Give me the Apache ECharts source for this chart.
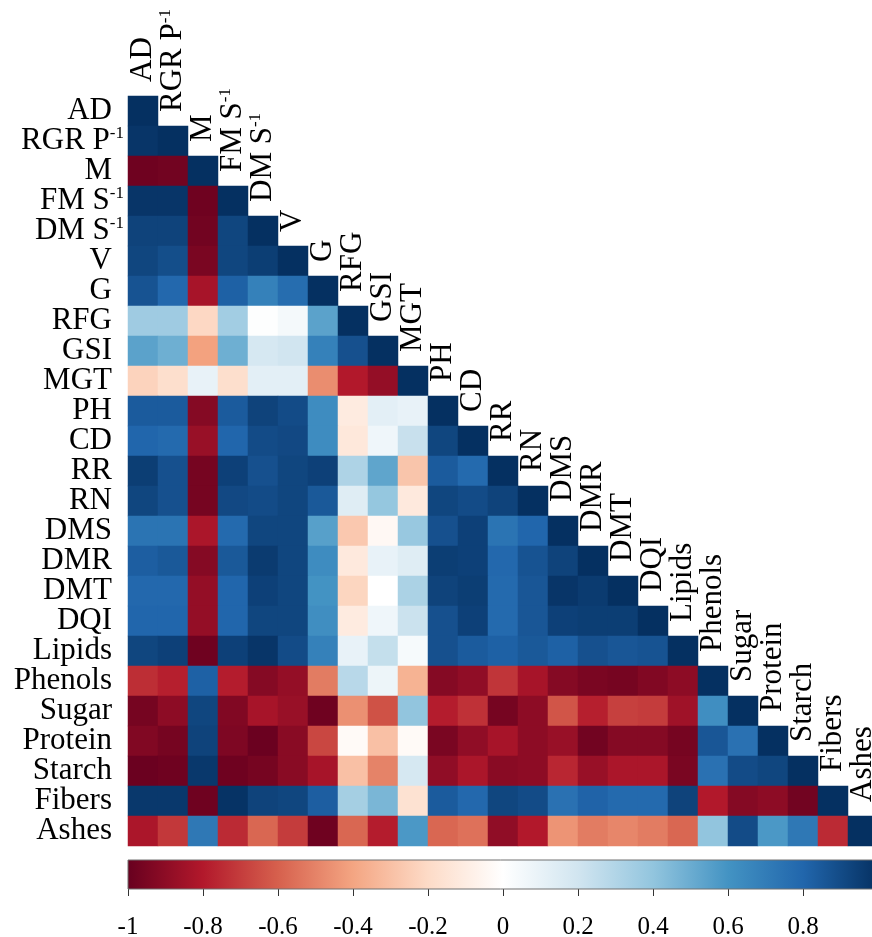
<!DOCTYPE html>
<html>
<head>
<meta charset="utf-8">
<script src="https://cdn.jsdelivr.net/npm/echarts@6/dist/echarts.min.js"></script>
<style>
  html, body { margin: 0; padding: 0; background: #ffffff; }
  #chart { width: 872px; height: 937px; }
</style>
</head>
<body>
<div id="chart"></div>
<script>
// Trait names; "^" marks a superscript part (e.g. per plant, per seedling)
const variables = ['AD', 'RGR P^-1', 'M', 'FM S^-1', 'DM S^-1', 'V', 'G', 'RFG', 'GSI', 'MGT',
  'PH', 'CD', 'RR', 'RN', 'DMS', 'DMR', 'DMT', 'DQI', 'Lipids', 'Phenols',
  'Sugar', 'Protein', 'Starch', 'Fibers', 'Ashes'];

// Pearson correlations, lower triangle: each row against the traits listed before it
const rowRGR = [0.98];
const rowM = [-0.98, -0.97];
const rowFM = [0.98, 0.98, -0.98];
const rowDM = [0.93, 0.93, -0.97, 0.92];
const rowV = [0.92, 0.89, -0.95, 0.92, 0.95];
const rowG = [0.87, 0.79, -0.83, 0.82, 0.68, 0.77];
const rowRFG = [0.36, 0.36, -0.21, 0.35, 0.01, 0.05, 0.54];
const rowGSI = [0.54, 0.49, -0.41, 0.49, 0.18, 0.2, 0.68, 0.88];
const rowMGT = [-0.23, -0.18, 0.1, -0.18, 0.12, 0.12, -0.47, -0.8, -0.88];
const rowPH = [0.84, 0.84, -0.92, 0.84, 0.93, 0.9, 0.63, -0.11, 0.12, 0.1];
const rowCD = [0.8, 0.78, -0.87, 0.8, 0.9, 0.91, 0.63, -0.13, 0.07, 0.23, 0.92];
const rowRR = [0.95, 0.88, -0.96, 0.94, 0.88, 0.92, 0.94, 0.31, 0.53, -0.28, 0.84, 0.78];
const rowRN = [0.92, 0.88, -0.96, 0.91, 0.9, 0.92, 0.85, 0.14, 0.39, -0.12, 0.92, 0.9, 0.93];
const rowDMS = [0.74, 0.74, -0.82, 0.78, 0.92, 0.92, 0.55, -0.27, -0.04, 0.38, 0.88, 0.94, 0.74, 0.8];
const rowDMR = [0.83, 0.85, -0.92, 0.85, 0.96, 0.92, 0.63, -0.12, 0.1, 0.14, 0.95, 0.94, 0.79, 0.87, 0.93];
const rowDMT = [0.79, 0.79, -0.88, 0.8, 0.94, 0.92, 0.6, -0.22, 0.0, 0.32, 0.93, 0.95, 0.78, 0.86, 0.98, 0.96];
const rowDQI = [0.8, 0.8, -0.88, 0.8, 0.92, 0.92, 0.62, -0.11, 0.07, 0.22, 0.88, 0.94, 0.78, 0.86, 0.94, 0.95, 0.95];
const rowLipids = [0.92, 0.94, -0.98, 0.94, 0.98, 0.9, 0.68, 0.1, 0.24, 0.04, 0.88, 0.84, 0.82, 0.85, 0.82, 0.88, 0.86, 0.87];
const rowPhenols = [-0.74, -0.78, 0.82, -0.79, -0.92, -0.88, -0.52, 0.28, 0.08, -0.35, -0.92, -0.89, -0.72, -0.83, -0.92, -0.95, -0.96, -0.93, -0.9];
const rowSugar = [-0.96, -0.9, 0.92, -0.93, -0.83, -0.87, -0.98, -0.46, -0.64, 0.4, -0.79, -0.73, -0.96, -0.9, -0.63, -0.78, -0.69, -0.7, -0.85, 0.62];
const rowProtein = [-0.93, -0.96, 0.93, -0.94, -0.99, -0.91, -0.67, -0.03, -0.3, -0.03, -0.95, -0.89, -0.83, -0.9, -0.87, -0.97, -0.92, -0.92, -0.96, 0.86, 0.75];
const rowStarch = [-0.99, -0.98, 0.97, -0.98, -0.96, -0.91, -0.83, -0.3, -0.5, 0.18, -0.89, -0.82, -0.91, -0.9, -0.76, -0.87, -0.82, -0.82, -0.95, 0.75, 0.9, 0.92];
const rowFibers = [0.97, 0.97, -0.98, 0.99, 0.93, 0.92, 0.83, 0.34, 0.46, -0.16, 0.84, 0.79, 0.92, 0.9, 0.75, 0.81, 0.78, 0.78, 0.93, -0.8, -0.92, -0.9, -0.97];
const rowAshes = [-0.82, -0.71, 0.72, -0.75, -0.58, -0.7, -0.98, -0.58, -0.79, 0.58, -0.58, -0.55, -0.89, -0.8, -0.45, -0.52, -0.49, -0.52, -0.58, 0.4, 0.9, 0.58, 0.72, -0.75];

const lowerRows = [[], rowRGR, rowM, rowFM, rowDM, rowV, rowG, rowRFG, rowGSI, rowMGT,
  rowPH, rowCD, rowRR, rowRN, rowDMS, rowDMR, rowDMT, rowDQI, rowLipids, rowPhenols,
  rowSugar, rowProtein, rowStarch, rowFibers, rowAshes];

// Colour key range and ticks
const keyRange = [-1, 1];
const keyTickStep = 0.2;

// Diverging red-white-blue ramp
const palette = ['#67001F', '#B2182B', '#D6604D', '#F4A582', '#FDDBC7', '#FFFFFF',
  '#D1E5F0', '#92C5DE', '#4393C3', '#2166AC', '#053061'];

const FONT = '"Liberation Serif", "Times New Roman", serif';

// heatmap cells [column, row, r] incl. the diagonal (r = 1)
const cells = [];
lowerRows.forEach((vals, r) => {
  vals.forEach((v, c) => cells.push([c, r, v]));
  cells.push([r, r, 1]);
});
const diagonal = variables.map((_, i) => [i, i]);

function rowLabel(name) {
  const parts = name.split('^');
  return parts.length > 1 ? '{m|' + parts[0] + '}{s|' + parts[1] + '}' : '{p|' + parts[0] + '}';
}
function colLabel(name) {
  const parts = name.split('^');
  return parts.length > 1 ? '{m|' + parts[0] + '}{s|' + parts[1] + '}' : '{m|' + parts[0] + '}';
}
const labelRich = {
  p: { fontSize: 31, fontFamily: FONT, color: '#000', padding: [0, 12, 0, 0] },
  m: { fontSize: 31, fontFamily: FONT, color: '#000' },
  s: { fontSize: 17, fontFamily: FONT, color: '#000', verticalAlign: 'top' }
};

const chart = echarts.init(document.getElementById('chart'), null, { renderer: 'canvas' });

chart.setOption({
  animation: false,
  backgroundColor: '#ffffff',
  grid: [
    { left: 128, top: 96, width: 750, height: 750, outerBoundsMode: 'none', containLabel: false },
    { left: 128, top: 860, width: 750, height: 29, outerBoundsMode: 'none', containLabel: false }
  ],
  xAxis: [
    { type: 'category', gridIndex: 0, data: variables, show: false },
    {
      type: 'value', gridIndex: 1, min: keyRange[0], max: keyRange[1], interval: keyTickStep,
      axisLine: { show: false },
      axisTick: { show: true, length: 7, lineStyle: { color: '#333', width: 1 } },
      axisLabel: { fontSize: 25, fontFamily: FONT, color: '#000', margin: 26 },
      splitLine: { show: false }
    }
  ],
  yAxis: [
    {
      type: 'category', gridIndex: 0, data: variables, inverse: true,
      axisLine: { show: false }, axisTick: { show: false }, splitLine: { show: false },
      axisLabel: {
        margin: 4, interval: 0, showMinLabel: true, showMaxLabel: true, hideOverlap: false,
        formatter: rowLabel, rich: labelRich
      }
    },
    { type: 'value', gridIndex: 1, min: 0, max: 1, show: false }
  ],
  visualMap: {
    show: false, type: 'continuous', min: keyRange[0], max: keyRange[1],
    dimension: 2, seriesIndex: 0, inRange: { color: palette }
  },
  series: [
    {
      type: 'heatmap', xAxisIndex: 0, yAxisIndex: 0, data: cells,
      itemStyle: { borderWidth: 0 },
      emphasis: { disabled: true }
    },
    {
      // trait names standing on the diagonal
      type: 'custom', xAxisIndex: 0, yAxisIndex: 0, data: diagonal, silent: true,
      renderItem: function (params, api) {
        const i = api.value(0);
        const c = api.coord([i, i]);
        const h = api.size([1, 1])[1];
        return {
          type: 'text',
          x: c[0], y: c[1] - h / 2 - 14,
          rotation: Math.PI / 2,
          style: {
            text: colLabel(variables[i]), rich: labelRich,
            fontSize: 31, fontFamily: FONT, fill: '#000',
            align: 'left', verticalAlign: 'middle'
          }
        };
      }
    },
    {
      // colour key bar
      type: 'custom', xAxisIndex: 1, yAxisIndex: 1, data: [keyRange], silent: true,
      encode: { x: [0, 1] },
      renderItem: function (params, api) {
        const p0 = api.coord([api.value(0), 1]);
        const p1 = api.coord([api.value(1), 0]);
        return {
          type: 'rect',
          shape: { x: p0[0], y: p0[1], width: p1[0] - p0[0], height: p1[1] - p0[1] },
          style: {
            fill: new echarts.graphic.LinearGradient(0, 0, 1, 0,
              palette.map((col, k) => ({ offset: k / (palette.length - 1), color: col }))),
            stroke: '#707070', lineWidth: 1
          }
        };
      }
    }
  ]
});
</script>
</body>
</html>
